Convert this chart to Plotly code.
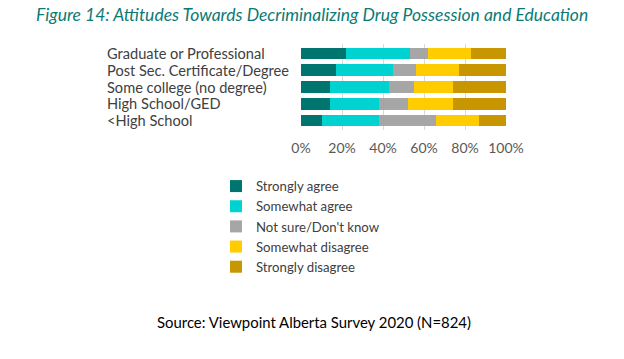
import plotly.graph_objects as go

categories = ["Graduate or Professional", "Post Sec. Certificate/Degree",
              "Some college (no degree)", "High School/GED", "<High School"]
series_names = ["Strongly agree", "Somewhat agree", "Not sure/Don't know",
                "Somewhat disagree", "Strongly disagree"]
strongly_agree = [0.22, 0.17, 0.14, 0.14, 0.10]
somewhat_agree = [0.31, 0.28, 0.29, 0.24, 0.28]
not_sure = [0.09, 0.11, 0.12, 0.14, 0.28]
somewhat_disagree = [0.21, 0.21, 0.19, 0.22, 0.21]
strongly_disagree = [0.17, 0.23, 0.26, 0.26, 0.13]
series_values = [strongly_agree, somewhat_agree, not_sure, somewhat_disagree, strongly_disagree]
colors = ["#00756F", "#00D1D1", "#A6A6A6", "#FFCC00", "#C89600"]
x_ticks = [0, 0.2, 0.4, 0.6, 0.8, 1.0]
x_tick_labels = ["0%", "20%", "40%", "60%", "80%", "100%"]

W, H = 624, 359
L, R, T, B = 301, 118, 44, 229
PW, PH = W - L - R, H - T - B


def px_x(px):
    return (px - L) / PW


def px_y(py):
    return (H - B - py) / PH


FONT = "Lato"
fig = go.Figure()
for name, vals, col in zip(series_names, series_values, colors):
    fig.add_trace(go.Bar(y=categories, x=vals, name=name, orientation="h",
                         marker=dict(color=col, line=dict(width=0))))

for cat in categories:
    fig.add_annotation(text=cat, xref="paper", x=px_x(106), xanchor="left",
                       yref="y", y=cat, showarrow=False, borderpad=0,
                       font=dict(family=FONT, size=14.6, color="#404040"))

fig.add_annotation(text="<i>Figure 14: Attitudes Towards Decriminalizing Drug Possession and Education</i>",
                   xref="paper", yref="paper", x=px_x(312), y=px_y(14),
                   xanchor="center", yanchor="middle", showarrow=False,
                   font=dict(family=FONT, size=17.5, color="#0B7A75"))
fig.add_annotation(text="Source: Viewpoint Alberta Survey 2020 (N=824)",
                   xref="paper", yref="paper", x=px_x(314), y=px_y(322),
                   xanchor="center", yanchor="middle", showarrow=False,
                   font=dict(family=FONT, size=14.9, color="#000000"))

fig.update_layout(
    width=W, height=H, barmode="stack", bargap=0.3,
    paper_bgcolor="white", plot_bgcolor="white",
    margin=dict(l=L, r=R, t=T, b=B, autoexpand=False),
    xaxis=dict(range=[0, 1], tickvals=x_ticks, ticktext=x_tick_labels, tickangle=0,
               showgrid=True, gridcolor="#D9D9D9", gridwidth=1, zeroline=False,
               ticks="outside", ticklen=5, tickcolor="rgba(0,0,0,0)",
               tickfont=dict(family=FONT, size=14, color="#595959"), fixedrange=True),
    yaxis=dict(categoryorder="array", categoryarray=categories[::-1],
               showticklabels=False, showgrid=False),
    legend=dict(orientation="v", traceorder="normal", xref="container", yref="container",
                x=216 / W, y=1 - 171 / H, xanchor="left", yanchor="top",
                font=dict(family=FONT, size=13.2, color="#404040"),
                itemwidth=30, tracegroupgap=0, bgcolor="rgba(0,0,0,0)"),
    showlegend=True,
)
fig.write_html("out.html", config={"displayModeBar": False},
               post_script="document.body.style.margin='0';")
